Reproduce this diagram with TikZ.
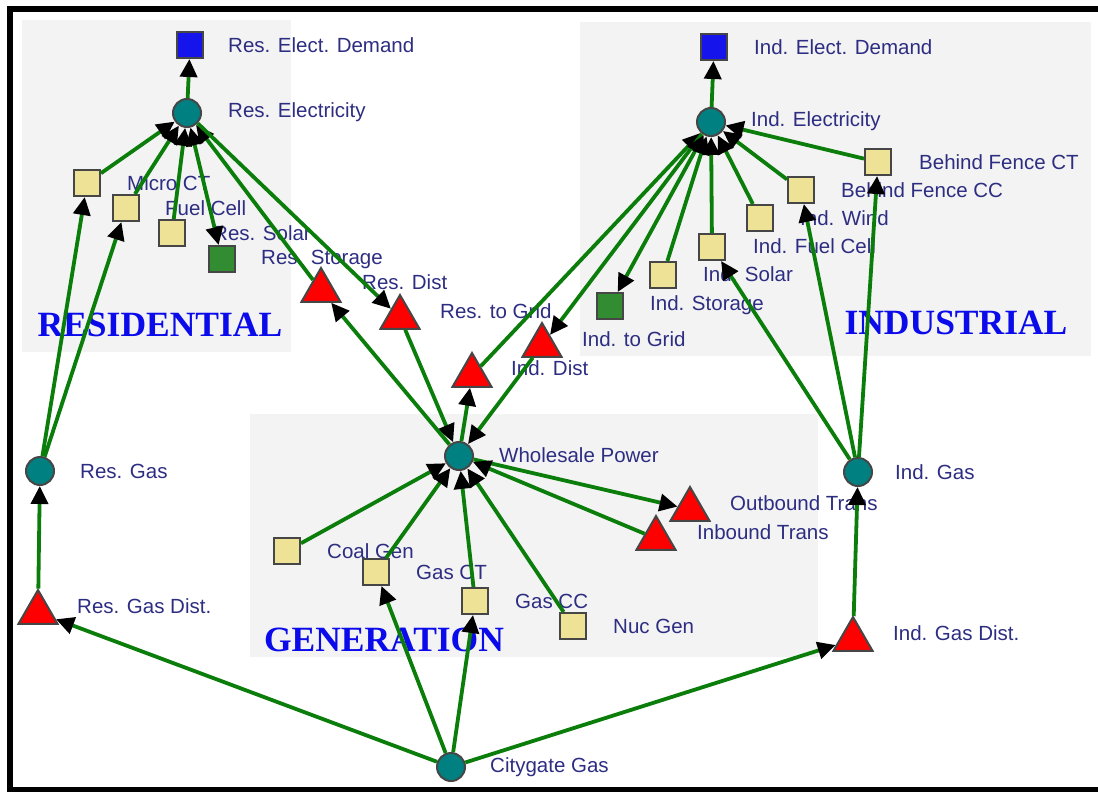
\documentclass[tikz,border=0pt]{standalone}
\usepackage{fontspec}
\setmainfont{Liberation Sans}
\newfontfamily\titlefont{Liberation Serif}
\usetikzlibrary{shapes.geometric,arrows.meta}

\definecolor{edgegreen}{RGB}{10,125,10}
\definecolor{lblblue}{RGB}{45,45,130}
\definecolor{panel}{RGB}{243,243,243}
\definecolor{hub}{RGB}{0,128,128}
\definecolor{tech}{RGB}{237,226,150}
\definecolor{store}{RGB}{50,140,50}
\definecolor{demand}{RGB}{20,20,235}
\definecolor{titleblue}{RGB}{10,10,235}
\definecolor{rim}{RGB}{70,70,70}

\begin{document}
\begin{tikzpicture}[x=1pt,y=-1pt,
  hubnode/.style={circle, fill=hub, draw=rim, line width=2pt, minimum size=28pt, inner sep=0pt},
  sq/.style={rectangle, draw=rim, line width=2pt, minimum size=26pt, inner sep=0pt},
  techbox/.style={sq, fill=tech},
  storebox/.style={sq, fill=store},
  demandbox/.style={sq, fill=demand},
  tri/.style={regular polygon, regular polygon sides=3, fill=red, draw=rim, line width=2pt,
              minimum size=45pt, inner sep=0pt, yshift=-5.5pt},
  lbl/.style={anchor=west, inner sep=0pt, text=lblblue, font=\fontsize{20.5}{24}\selectfont},
  sect/.style={text=titleblue, inner sep=0pt, font=\titlefont\bfseries\fontsize{35.5}{40}\selectfont},
  flow/.style={draw=edgegreen, line width=3.8pt, -{Triangle[length=18pt,width=17pt,color=black]}},
  twoway/.style={draw=edgegreen, line width=3.8pt,
     {Triangle[length=18pt,width=17pt,color=black]}-{Triangle[length=18pt,width=17pt,color=black]}},
  frame/.style={draw=black, line width=6pt}
]
\useasboundingbox (0,0) rectangle (1098,792);

% sector panels
\fill[panel] (22,20) rectangle (291,352);
\fill[panel] (580,22) rectangle (1091,356);
\fill[panel] (250,414) rectangle (818,657);

% outer frame (right side lies beyond the page)
\draw[frame] (10,9) rectangle (1110,790);

% sector titles
\node[sect] (tres) at (160,325) {RESIDENTIAL};
\node[sect] (tind) at (956,323) {INDUSTRIAL};
\node[sect] (tgen) at (384,640) {GENERATION};

% vertex labels
\node[lbl] (l-resdem)   at (228,45)  {Res. Elect. Demand};
\node[lbl] (l-reselec)  at (228,112) {Res. Electricity};
\node[lbl] (l-micro)    at (127,183) {Micro CT};
\node[lbl] (l-fuel)     at (165,208) {Fuel Cell};
\node[lbl] (l-ressolar) at (213,233) {Res. Solar};
\node[lbl] (l-resstor)  at (261,259) {Res. Storage};
\node[lbl] (l-resdist)  at (362,282) {Res. Dist};
\node[lbl] (l-resgrid)  at (440,311) {Res. to Grid};
\node[lbl] (l-inddist)  at (511,368) {Ind. Dist};
\node[lbl] (l-indgrid)  at (582,339) {Ind. to Grid};
\node[lbl] (l-indstor)  at (650,305) {Ind. Storage};
\node[lbl] (l-indsolar) at (703,274) {Ind. Solar};
\node[lbl] (l-indfuel)  at (753,246) {Ind. Fuel Cell};
\node[lbl] (l-indwind)  at (800,218) {Ind. Wind};
\node[lbl] (l-bfcc)     at (841,190) {Behind Fence CC};
\node[lbl] (l-bfct)     at (919,162) {Behind Fence CT};
\node[lbl] (l-indelec)  at (751,121) {Ind. Electricity};
\node[lbl] (l-inddem)   at (754,47)  {Ind. Elect. Demand};
\node[lbl] (l-whole)    at (499,455) {Wholesale Power};
\node[lbl] (l-outb)     at (730,503) {Outbound Trans};
\node[lbl] (l-inb)      at (697,532) {Inbound Trans};
\node[lbl] (l-coal)     at (327,551) {Coal Gen};
\node[lbl] (l-gasct)    at (416,572) {Gas CT};
\node[lbl] (l-gascc)    at (515,601) {Gas CC};
\node[lbl] (l-nuc)      at (613,626) {Nuc Gen};
\node[lbl] (l-resgas)   at (80,471)  {Res. Gas};
\node[lbl] (l-resgd)    at (77,606)  {Res. Gas Dist.};
\node[lbl] (l-indgas)   at (895,472) {Ind. Gas};
\node[lbl] (l-indgd)    at (893,633) {Ind. Gas Dist.};
\node[lbl] (l-city)     at (490,767) {Citygate Gas};

% vertices
\node[demandbox] (resdem)   at (190,45)  {};
\node[hubnode]   (reselec)  at (187,113) {};
\node[techbox]   (micro)    at (87,183)  {};
\node[techbox]   (fuel)     at (126,208) {};
\node[techbox]   (ressolar) at (172,233) {};
\node[storebox]  (resstor)  at (222,259) {};
\node[tri]       (resdist)  at (321,285) {};
\node[tri]       (resgrid)  at (400,312) {};
\node[tri]       (inddist)  at (472,370) {};
\node[tri]       (indgrid)  at (542,340) {};
\node[storebox]  (indstor)  at (610,306) {};
\node[techbox]   (indsolar) at (663,275) {};
\node[techbox]   (indfuel)  at (712,247) {};
\node[techbox]   (indwind)  at (760,218) {};
\node[techbox]   (bfcc)     at (801,190) {};
\node[techbox]   (bfct)     at (878,162) {};
\node[hubnode]   (indelec)  at (711,122) {};
\node[demandbox] (inddem)   at (714,47)  {};
\node[hubnode]   (whole)    at (459,456) {};
\node[tri]       (outb)     at (690,504) {};
\node[tri]       (inb)      at (656,533) {};
\node[techbox]   (coal)     at (287,551) {};
\node[techbox]   (gasct)    at (376,572) {};
\node[techbox]   (gascc)    at (475,601) {};
\node[techbox]   (nuc)      at (573,626) {};
\node[hubnode]   (resgas)   at (40,471)  {};
\node[tri]       (resgd)    at (38,607)  {};
\node[hubnode]   (indgas)   at (858,472) {};
\node[tri]       (indgd)    at (853,634) {};
\node[hubnode]   (city)     at (451,767) {};

% residential flows
\draw[flow] (reselec) -- (resdem);
\draw[flow] (micro) -- (reselec);
\draw[flow] (fuel) -- (reselec);
\draw[flow] (ressolar) -- (reselec);
\draw[twoway] (reselec) -- (resstor);
\draw[flow] (resdist) -- (reselec);
\draw[flow] (reselec) -- (resgrid);
\draw[flow] (resgrid) -- (whole);
\draw[flow] (whole) -- (resdist);
\draw[flow] (resgas) -- (micro);
\draw[flow] (resgas) -- (fuel);
\draw[flow] (resgd) -- (resgas);
\draw[flow] (city) -- (resgd);

% industrial flows
\draw[flow] (indelec) -- (inddem);
\draw[flow] (whole) -- (inddist);
\draw[flow] (inddist) -- (indelec);
\draw[flow] (indelec) -- (indgrid);
\draw[flow] (indgrid) -- (whole);
\draw[twoway] (indelec) -- (indstor);
\draw[flow] (indsolar) -- (indelec);
\draw[flow] (indfuel) -- (indelec);
\draw[flow] (indwind) -- (indelec);
\draw[flow] (bfcc) -- (indelec);
\draw[flow] (bfct) -- (indelec);
\draw[flow] (indgas) -- (indfuel);
\draw[flow] (indgas) -- (bfcc);
\draw[flow] (indgas) -- (bfct);
\draw[flow] (indgd) -- (indgas);
\draw[flow] (city) -- (indgd);

% generation flows
\draw[flow] (city) -- (gasct);
\draw[flow] (city) -- (gascc);
\draw[flow] (coal) -- (whole);
\draw[flow] (gasct) -- (whole);
\draw[flow] (gascc) -- (whole);
\draw[flow] (nuc) -- (whole);
\draw[flow] (whole) -- (outb);
\draw[flow] (inb) -- (whole);
\end{tikzpicture}
\end{document}
